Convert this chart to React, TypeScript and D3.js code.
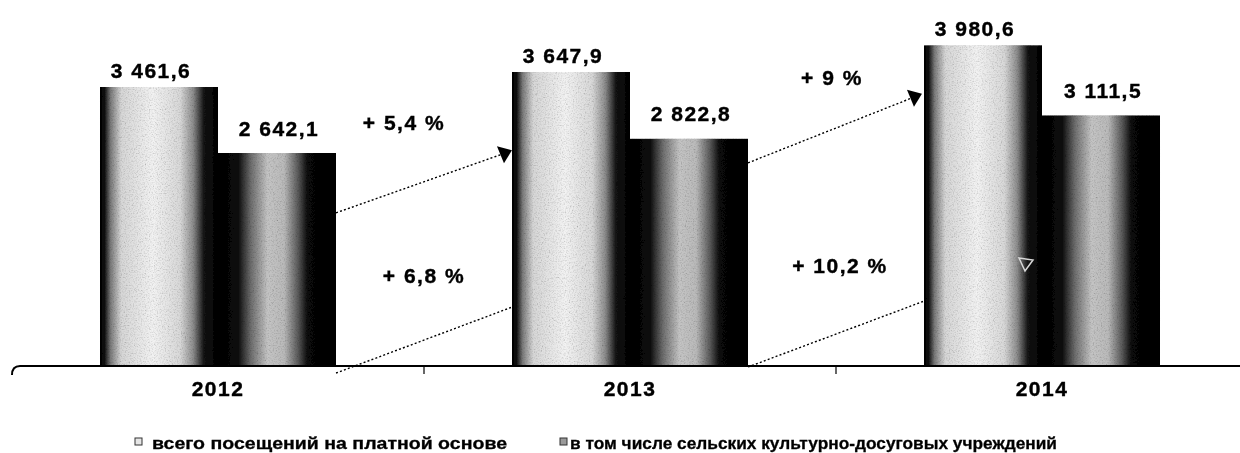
import * as React from "react";
import * as d3 from "d3";
import { useEffect, useRef } from "react";

// visits, thousands
const years = ["2012", "2013", "2014"];
const seriesNames = [
  "всего посещений на платной основе",
  "в том числе сельских культурно-досуговых  учреждений",
];
const totalVisits = [3461.6, 3647.9, 3980.6];
const ruralVisits = [2642.1, 2822.8, 3111.5];
const growthTotal = ["+ 5,4 %", "+ 9 %"];
const growthRural = ["+ 6,8 %", "+ 10,2 %"];

const W = 1240;
const H = 453;
const base = 366;

const ru = d3.formatLocale({ decimal: ",", thousands: " ", grouping: [3], currency: ["", ""] });
const fmt = ru.format(",.1f");

const App: React.FunctionComponent = () => {
  const svgRef = useRef<SVGSVGElement>(null);

  useEffect(() => {
    const svg = d3.select(svgRef.current);
    svg.selectAll("*").remove();

    const x0 = d3.scaleBand().domain(years).range([12, 1248]).paddingInner(0.427).paddingOuter(0.2135);
    const x1 = d3.scaleBand().domain(["total", "rural"]).range([0, x0.bandwidth()]);
    const y = d3.scaleLinear().domain([0, 4540]).range([base, 0]);

    const defs = svg.append("defs");

    const grad = (id: string, stops: [number, string][]) => {
      const g = defs.append("linearGradient").attr("id", id).attr("x1", "0").attr("x2", "1").attr("y1", "0").attr("y2", "0");
      stops.forEach(([o, c]) => g.append("stop").attr("offset", o).attr("stop-color", c));
    };
    grad("gTotal", [
      [0, "#000"], [0.04, "#111"], [0.09, "#7a7a7a"], [0.18, "#d6d6d6"],
      [0.45, "#f2f2f2"], [0.68, "#d8d8d8"], [0.79, "#8c8c8c"], [0.88, "#141414"], [1, "#000"],
    ]);
    grad("gRural", [
      [0, "#000"], [0.17, "#0c0c0c"], [0.28, "#6e6e6e"], [0.42, "#c4c4c4"],
      [0.56, "#bababa"], [0.68, "#585858"], [0.76, "#080808"], [1, "#000"],
    ]);

    const f = defs.append("filter").attr("id", "grain").attr("x", 0).attr("y", 0).attr("width", 1).attr("height", 1);
    f.append("feTurbulence").attr("type", "fractalNoise").attr("baseFrequency", 0.75).attr("numOctaves", 2).attr("seed", 4).attr("result", "n");
    f.append("feColorMatrix").attr("in", "n").attr("type", "saturate").attr("values", 0).attr("result", "g");
    const ct = f.append("feComponentTransfer").attr("in", "g").attr("result", "g2");
    ["feFuncR", "feFuncG", "feFuncB"].forEach((fn) =>
      ct.append(fn).attr("type", "linear").attr("slope", 1.9).attr("intercept", -0.05)
    );
    f.append("feBlend").attr("in", "SourceGraphic").attr("in2", "g2").attr("mode", "multiply").attr("result", "b");
    f.append("feComposite").attr("in", "b").attr("in2", "SourceGraphic").attr("operator", "in");

    const edgeR = (i: number) => x0(years[i])! + x0.bandwidth();
    const edgeL = (i: number) => x0(years[i])!;
    const ruralL = (i: number) => x0(years[i])! + x1("rural")!;

    // dotted growth arrows (behind bars)
    const upper = [
      { x1: edgeR(0), v1: 1900, x2: edgeL(1) - 7, v2: 2640 },
      { x1: edgeR(1), v1: 2520, x2: edgeL(2) - 9, v2: 3340 },
    ];
    const lower = [
      { x1: edgeR(0), v1: -87, x2: ruralL(1) - 16, v2: 1204 },
      { x1: edgeR(1), v1: -12, x2: ruralL(2) - 16, v2: 1278 },
    ];
    const arrows = svg.append("g");
    [...upper, ...lower].forEach((a) => {
      arrows
        .append("line")
        .attr("x1", a.x1)
        .attr("y1", y(a.v1))
        .attr("x2", a.x2)
        .attr("y2", y(a.v2))
        .attr("stroke", "#000")
        .attr("stroke-width", 1.4)
        .attr("stroke-dasharray", "2 2.2");
    });

    // bars
    const bars = svg.append("g").attr("filter", "url(#grain)");
    years.forEach((yr, i) => {
      const g = bars.append("g").attr("transform", `translate(${x0(yr)},0)`);
      g.append("rect")
        .attr("x", x1("total")!)
        .attr("y", y(totalVisits[i]))
        .attr("width", x1.bandwidth())
        .attr("height", base - y(totalVisits[i]))
        .attr("fill", "url(#gTotal)");
      g.append("rect")
        .attr("x", x1("rural")!)
        .attr("y", y(ruralVisits[i]))
        .attr("width", x1.bandwidth())
        .attr("height", base - y(ruralVisits[i]))
        .attr("fill", "url(#gRural)");
    });

    // arrow heads
    upper.forEach((a) => {
      const hx = a.x2;
      const hy = y(a.v2);
      svg
        .append("path")
        .attr("d", `M${hx - 8},${hy - 7} L${hx + 7},${hy - 3} L${hx - 1},${hy + 10} Z`)
        .attr("fill", "#000");
    });
    {
      const a = lower[1];
      const hx = a.x2;
      const hy = y(a.v2);
      svg
        .append("path")
        .attr("d", `M${hx - 7},${hy - 5} L${hx + 7},${hy - 3} L${hx - 1},${hy + 8} Z`)
        .attr("fill", "none")
        .attr("stroke", "#d8d8d8")
        .attr("stroke-width", 1.5);
    }

    const txt = (sel: d3.Selection<any, any, any, any>) =>
      sel
        .attr("font-family", "'Liberation Sans', Arial, sans-serif")
        .attr("font-weight", "bold")
        .attr("font-size", 21)
        .attr("letter-spacing", 1.5)
        .attr("text-anchor", "middle")
        .attr("fill", "#000")
        .attr("stroke", "#000")
        .attr("stroke-width", 0.4);

    // value labels
    years.forEach((yr, i) => {
      txt(svg.append("text"))
        .attr("x", x0(yr)! + x1("total")! + x1.bandwidth() / 2 - 8)
        .attr("y", y(totalVisits[i]) - 9)
        .text(fmt(totalVisits[i]));
      txt(svg.append("text"))
        .attr("x", x0(yr)! + x1("rural")! + x1.bandwidth() / 2 + 2)
        .attr("y", y(ruralVisits[i]) - 17)
        .text(fmt(ruralVisits[i]));
    });

    // growth labels
    const mid = (i: number) => (edgeR(i) + edgeL(i + 1)) / 2;
    const gTotPos = [{ dx: -20, v: 2927 }, { dx: -4, v: 3485 }];
    const gRurPos = [{ dx: 0, v: 1030 }, { dx: 4, v: 1154 }];
    growthTotal.forEach((t, i) => {
      txt(svg.append("text")).attr("x", mid(i) + gTotPos[i].dx).attr("y", y(gTotPos[i].v)).text(t);
    });
    growthRural.forEach((t, i) => {
      txt(svg.append("text")).attr("x", mid(i) + gRurPos[i].dx).attr("y", y(gRurPos[i].v)).text(t);
    });

    // axis
    const ax = svg.append("g");
    ax.append("path")
      .attr("d", `M12,${base + 9} Q12,${base} 20,${base} L${W},${base}`)
      .attr("fill", "none")
      .attr("stroke", "#000")
      .attr("stroke-width", 2);
    [1, 2].forEach((i) => {
      const tx = x0.step() * i + 12;
      ax.append("line").attr("x1", tx).attr("x2", tx).attr("y1", base).attr("y2", base + 8).attr("stroke", "#000").attr("stroke-width", 1.2);
    });
    years.forEach((yr) => {
      txt(ax.append("text"))
        .attr("x", x0(yr)! + x0.bandwidth() / 2)
        .attr("y", 396)
        .text(yr);
    });

    // legend
    const leg = svg.append("g");
    const legPos = [
      { mx: 135, tx: 152, len: 355 },
      { mx: 560, tx: 570, len: 487 },
    ];
    seriesNames.forEach((name, i) => {
      const p = legPos[i];
      leg.append("rect")
        .attr("x", p.mx)
        .attr("y", 438)
        .attr("width", 7)
        .attr("height", 7)
        .attr("fill", i === 0 ? "#e6e6e6" : "#9a9a9a")
        .attr("stroke", "#333")
        .attr("stroke-width", 1);
      leg.append("text")
        .attr("x", p.tx)
        .attr("y", 449)
        .attr("font-family", "'Liberation Sans', Arial, sans-serif")
        .attr("font-weight", "bold")
        .attr("font-size", 17)
        .attr("textLength", p.len)
        .attr("lengthAdjust", "spacingAndGlyphs")
        .attr("fill", "#000")
        .attr("stroke", "#000")
        .attr("stroke-width", 0.3)
        .text(name);
    });
  }, []);

  return (
    <svg ref={svgRef} width={W} height={H} style={{ display: "block", position: "absolute", left: 0, top: 0, background: "#fff" }} />
  );
};

export default App;
